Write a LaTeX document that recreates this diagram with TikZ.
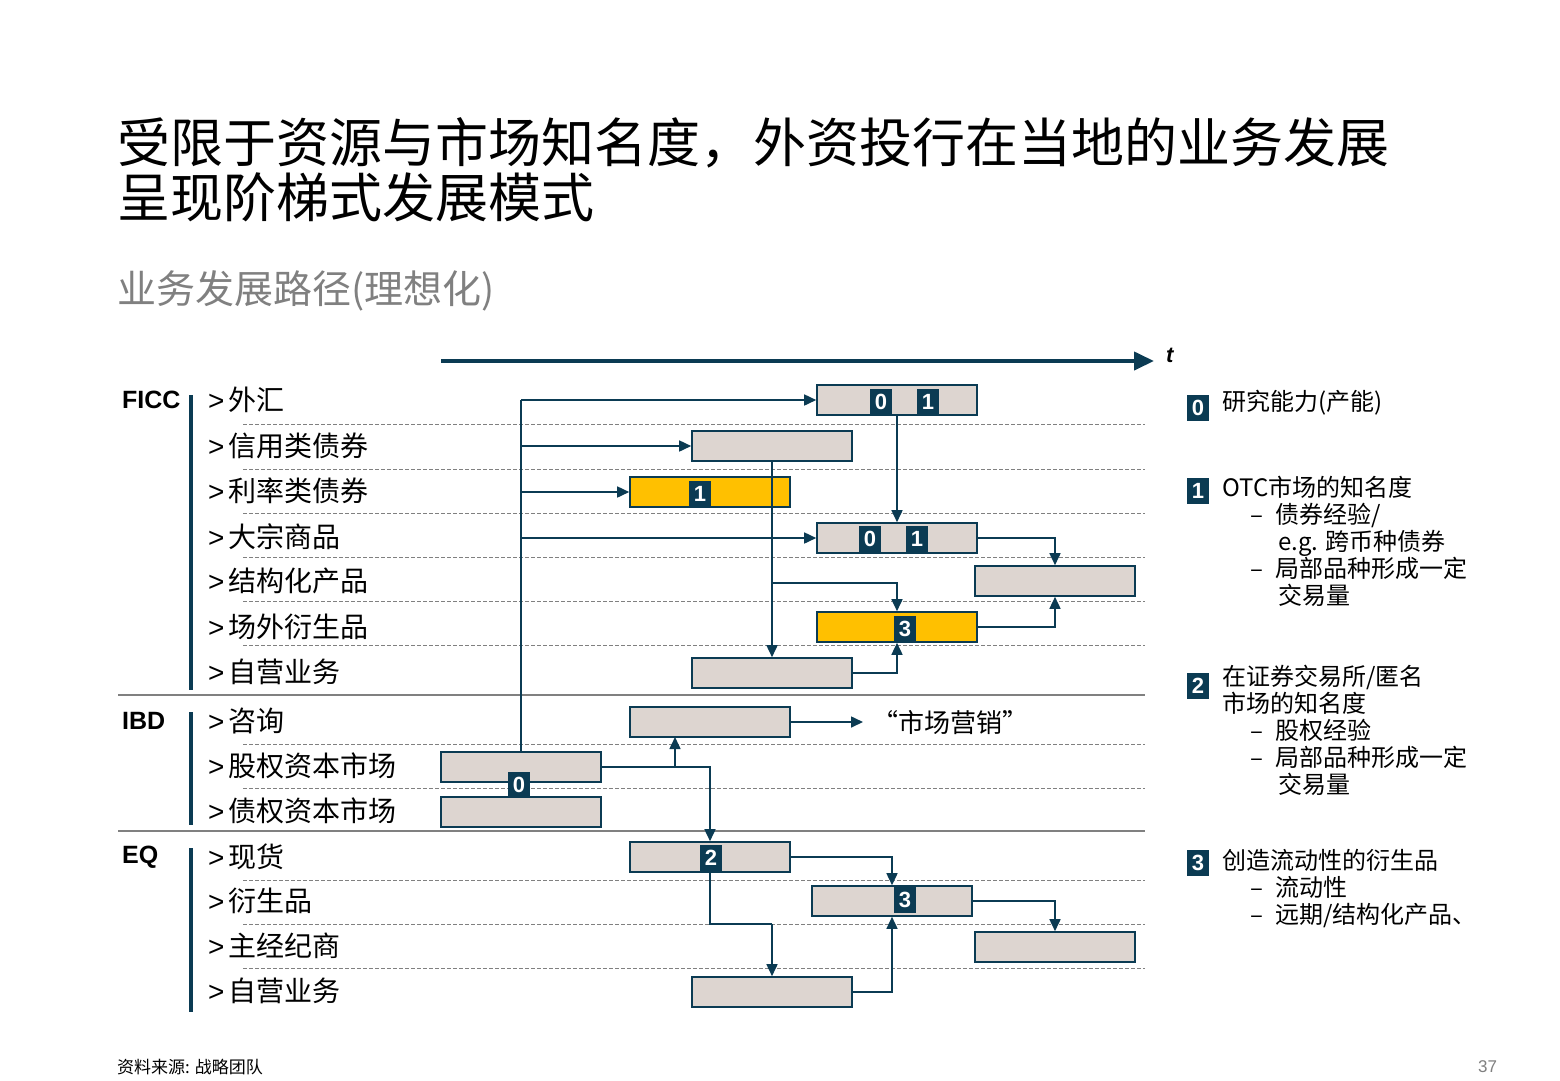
\documentclass[tikz,border=0pt]{standalone}
\usepackage{fontspec}
\setmainfont{Noto Sans CJK SC}
\newfontfamily\lat{Liberation Sans}
\usetikzlibrary{arrows.meta}
\definecolor{teal}{HTML}{0B3B53}
\definecolor{boxfill}{HTML}{DDD5D0}
\definecolor{yel}{HTML}{FFC000}
\definecolor{gr}{HTML}{808080}
\tikzset{
 bx/.style={draw=teal,line width=1.6pt,fill=boxfill,minimum width=160,minimum height=30,inner sep=0},
 ybx/.style={bx,fill=yel},
 badge/.style={fill=teal,text=white,minimum width=22,minimum height=26,inner sep=0,font=\lat\bfseries\fontsize{22}{22}\selectfont},
 arr/.style={draw=teal,line width=1.6pt,-{Triangle[length=12pt,width=11pt]}},
 ln/.style={draw=teal,line width=1.6pt},
 dsh/.style={draw=gr,dashed,line width=1pt,dash pattern=on 4pt off 2pt},
 sep/.style={draw=gr,line width=1.5pt},
 item/.style={anchor=west,inner sep=0,font=\fontsize{28}{28}\selectfont},
 grp/.style={anchor=west,inner sep=0,font=\lat\bfseries\fontsize{25}{25}\selectfont},
 leg/.style={anchor=north west,inner sep=0,align=left,font=\fontsize{24}{29}\selectfont}
}
\begin{document}
\begin{tikzpicture}[x=1pt,y=-1pt]
\useasboundingbox[fill=white] (0,0) rectangle (1560,1080);
% title
\node[anchor=west,inner sep=0,font=\fontsize{53}{56}\selectfont] (t1) at (117,143) {受限于资源与市场知名度，外资投行在当地的业务发展};
\node[anchor=west,inner sep=0,font=\fontsize{53}{56}\selectfont] (t2) at (117,197) {呈现阶梯式发展模式};
\node[anchor=west,inner sep=0,text=gr,font=\fontsize{39}{40}\selectfont] (st) at (117,291) {业务发展路径(理想化)};
% time axis
\coordinate (ax0) at (441,361); \coordinate (ax1) at (1154,361);
\draw[draw=teal,line width=4pt,-{Triangle[length=20pt,width=18pt]}] (ax0) -- (ax1);
\node[anchor=west,inner sep=0,font=\lat\bfseries\itshape\fontsize{22}{22}\selectfont] (tt) at (1166,355) {t};
% dashed and separators
\foreach \y in {424,469,513,557,601,645,744,788,880,924,968} \draw[dsh] (243,\y) -- (1145,\y);
\draw[sep] (118,695) -- (1145,695);
\draw[sep] (118,831) -- (1145,831);
% group labels
\node[grp] (g1) at (122,400) {FICC};
\node[grp] (g2) at (122,721) {IBD};
\node[grp] (g3) at (122,857) {EQ};
\draw[teal,line width=4pt] (191,395) -- (191,690);
\draw[teal,line width=4pt] (191,712) -- (191,825);
\draw[teal,line width=4pt] (191,848) -- (191,1012);
% items
\foreach \y/\t [count=\i] in {400/外汇,446/信用类债券,491/利率类债券,537/大宗商品,581/结构化产品,627/场外衍生品,672/自营业务,721/咨询,766/股权资本市场,811/债权资本市场,857/现货,901/衍生品,946/主经纪商,991/自营业务}
  \node[item] (it\i) at (208,\y) {{\lat >}\hspace{4pt}\t};
% boxes
\node[bx]  (A) at (897,400) {};
\node[bx]  (B) at (772,446) {};
\node[ybx] (C) at (710,492) {};
\node[bx]  (D) at (897,538) {};
\node[bx]  (E) at (1055,581) {};
\node[ybx] (F) at (897,627) {};
\node[bx]  (G) at (772,673) {};
\node[bx]  (H) at (710,722) {};
\node[bx]  (I) at (521,767) {};
\node[bx]  (J) at (521,812) {};
\node[bx]  (K) at (710,857) {};
\node[bx]  (L) at (892,901) {};
\node[bx]  (M) at (1055,947) {};
\node[bx]  (N) at (772,992) {};
% connectors
\coordinate (v0) at (521,752);
\coordinate (vA) at (521,400);
\coordinate (vB) at (521,446);
\coordinate (vC) at (521,492);
\coordinate (vD) at (521,538);
\draw[ln] (v0) -- (vA);
\draw[arr] (vA) -- (A.west);
\draw[arr] (vB) -- (B.west);
\draw[arr] (vC) -- (C.west);
\draw[arr] (vD) -- (D.west);
\draw[arr] (A.south) -- (D.north);
\draw[arr] (B.south) -- (G.north);
\coordinate (bF) at (772,583);
\draw[arr] (bF) -| (F.north);
\draw[arr] (D.east) -| (E.north);
\draw[arr] (F.east) -| (E.south);
\draw[arr] (G.east) -| (F.south);
\coordinate (mk) at (863,722);
\draw[arr] (H.east) -- (mk);
\node[anchor=west,inner sep=0,font=\fontsize{26}{26}\selectfont] (mkt) at (872,723) {“市场营销"};
\draw[arr] (I.east) -| (K.north);
\coordinate (hb) at (675,767);
\coordinate (hs) at (675,737);
\draw[arr] (hb) -- (hs);
\draw[arr] (K.east) -| (L.north);
\coordinate (k1) at (710,924);
\coordinate (k2) at (772,924);
\draw[ln] (K.south) -- (k1) -- (k2);
\draw[arr] (k2) -- (N.north);
\draw[arr] (N.east) -| (L.south);
\draw[arr] (L.east) -| (M.north);
% badges on boxes
\node[badge] (bA0) at (881,402) {0};
\node[badge] (bA1) at (928,402) {1};
\node[badge] (bC1) at (700,494) {1};
\node[badge] (bD0) at (870,539) {0};
\node[badge] (bD1) at (917,539) {1};
\node[badge] (bF3) at (905,629) {3};
\node[badge] (bI0) at (519,785) {0};
\node[badge] (bK2) at (711,858) {2};
\node[badge] (bL3) at (905,900) {3};
% legend
\node[badge] (l0) at (1198,408) {0};
\node[leg] (lt0) at (1222,390) {研究能力(产能)};
\node[badge] (l1) at (1198,491) {1};
\node[leg] (lt1) at (1222,476) {OTC市场的知名度\\[-2pt]\hspace{28pt}–\hspace{12pt}债券经验/\\[-2pt]\hspace{56pt}e.g. 跨币种债券\\[-2pt]\hspace{28pt}–\hspace{12pt}局部品种形成一定\\[-2pt]\hspace{56pt}交易量};
\node[badge] (l2) at (1198,686) {2};
\node[leg] (lt2) at (1222,665) {在证券交易所/匿名\\[-2pt]市场的知名度\\[-2pt]\hspace{28pt}–\hspace{12pt}股权经验\\[-2pt]\hspace{28pt}–\hspace{12pt}局部品种形成一定\\[-2pt]\hspace{56pt}交易量};
\node[badge] (l3) at (1198,863) {3};
\node[leg] (lt3) at (1222,849) {创造流动性的衍生品\\[-2pt]\hspace{28pt}–\hspace{12pt}流动性\\[-2pt]\hspace{28pt}–\hspace{12pt}远期/结构化产品、};
% footer
\node[anchor=west,inner sep=0,font=\fontsize{17}{17}\selectfont] (src) at (117,1067) {资料来源: 战略团队};
\node[anchor=west,inner sep=0,text=gr,font=\lat\fontsize{17}{17}\selectfont] (pg) at (1478,1067) {37};
\end{tikzpicture}
\end{document}
